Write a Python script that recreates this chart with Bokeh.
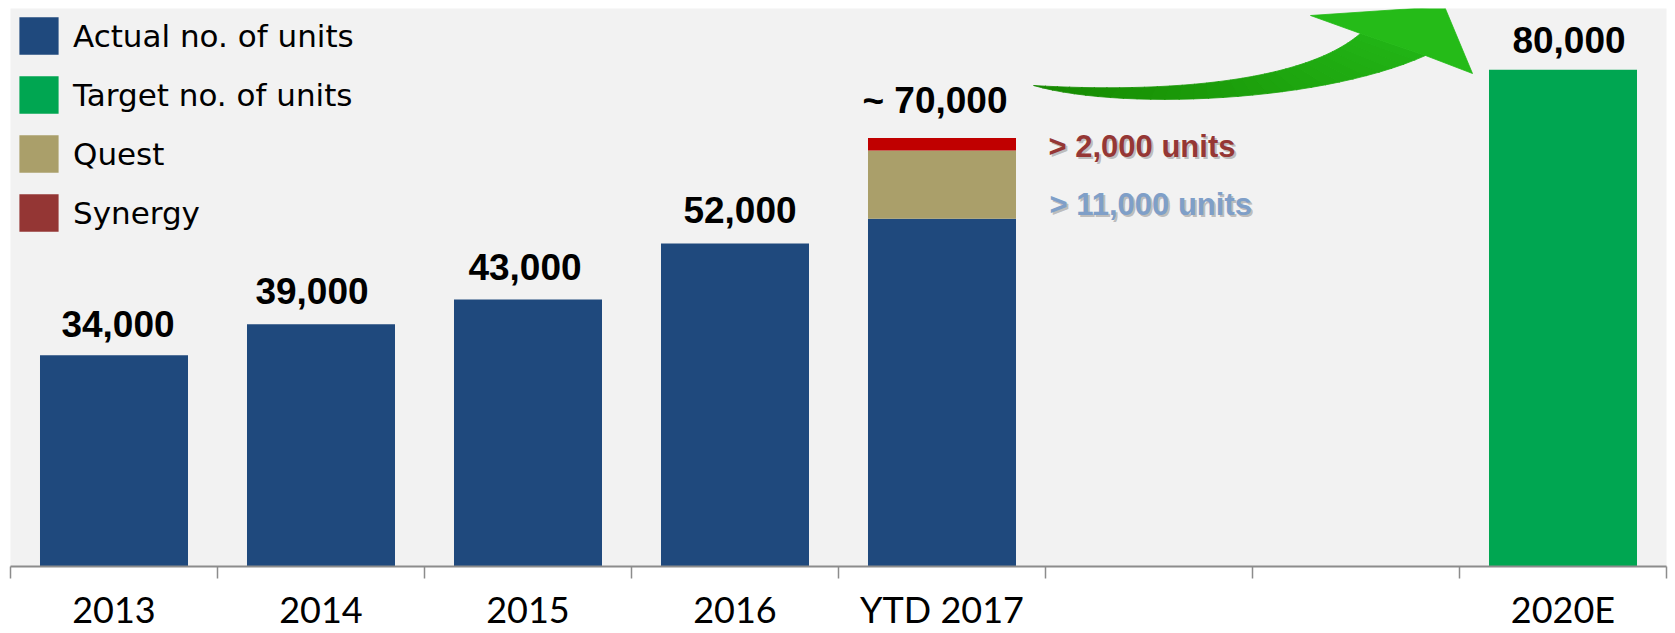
from bokeh.plotting import figure
from bokeh.models import Range1d, FixedTicker, ColumnDataSource, Legend, LegendItem
from bokeh.core.properties import value
from bokeh.embed import file_html
from bokeh.resources import INLINE

# ---------------- data ----------------
categories = ["2013", "2014", "2015", "2016", "YTD 2017", "", "", "2020E"]
actual_units = [34000, 39000, 43000, 52000, 56000, 0, 0, 0]
quest_units = [0, 0, 0, 0, 11000, 0, 0, 0]
synergy_units = [0, 0, 0, 0, 2000, 0, 0, 0]
target_units = [0, 0, 0, 0, 0, 0, 0, 80000]
bar_labels = ["34,000", "39,000", "43,000", "52,000", "~ 70,000", "", "", "80,000"]
note_labels = ["> 2,000 units", "> 11,000 units"]
legend_labels = ["Actual no. of units", "Target no. of units", "Quest", "Synergy"]

# ---------------- styles / layout ----------------
BLUE = "#1f497d"
GREEN = "#00a651"
QUEST = "#aa9f6a"
SYN_BAR = "#c00000"
SYN_LEG = "#943634"
AXIS_GREY = "#8c8c8c"

FIG_W, FIG_H = 1675, 633
FRAME_LEFT, FRAME_TOP, FRAME_W, FRAME_H = 10, 8, 1656, 558
PX_PER_UNIT = 0.00621
Y_MAX = FRAME_H / PX_PER_UNIT
BAR_W = 0.715
label_dy = [-31, -33, -32, -34, -38, 0, 0, -30]
label_dx = [4, -9, -3, 5, -7, 0, 0, 6]

positions = list(range(1, len(categories) + 1))
totals = [a + q + s + t for a, q, s, t in zip(actual_units, quest_units, synergy_units, target_units)]

src = ColumnDataSource(dict(x=positions, actual=actual_units, quest=quest_units,
                            synergy=synergy_units, target=target_units,
                            total=totals, label=bar_labels, dx=label_dx, dy=label_dy))

p = figure(width=FIG_W, height=FIG_H, output_backend="svg", toolbar_location=None,
           x_range=Range1d(0.5, len(categories) + 0.5), y_range=Range1d(0, Y_MAX),
           y_axis_location=None,
           min_border_left=FRAME_LEFT, min_border_right=FIG_W - FRAME_LEFT - FRAME_W,
           min_border_top=FRAME_TOP, min_border_bottom=FIG_H - FRAME_TOP - FRAME_H)
p.background_fill_color = "#f2f2f2"
p.border_fill_color = "white"
p.outline_line_color = None
p.xgrid.visible = False
p.ygrid.visible = False

def px_x(px):
    return 0.5 + (px - FRAME_LEFT) / FRAME_W * len(categories)

def px_y(py):
    return (FRAME_TOP + FRAME_H - py) / FRAME_H * Y_MAX

# ---------------- bars ----------------
rs = p.vbar_stack(["actual", "quest", "synergy", "target"], x="x", width=BAR_W,
                  color=[BLUE, QUEST, SYN_BAR, GREEN], line_color=None, source=src)
# legend swatch for Synergy (zero-height bar, nothing visible on the chart)
r_syn_leg = p.vbar(x=[positions[4]], bottom=[0], top=[0], width=BAR_W,
                   color=SYN_LEG, line_color=None)

p.text(x="x", y="total", text="label", x_offset="dx", y_offset="dy", source=src,
       text_font=value("Liberation Sans"), text_font_style="bold",
       text_font_size="37px", text_color="black", text_align="center",
       text_baseline="alphabetic")

# notes next to the YTD 2017 stack
note_src = ColumnDataSource(dict(x=[px_x(1048), px_x(1049)], y=[px_y(146), px_y(204)],
                                 text=note_labels, color=["#953735", "#7f9fc8"]))
p.text(x="x", y="y", text="text", source=note_src, x_offset=2, y_offset=2,
       text_font=value("Liberation Sans"), text_font_style="bold", text_font_size="31px",
       text_color="#7a7a7a", text_alpha=0.45, text_baseline="middle")
p.text(x="x", y="y", text="text", source=note_src, text_color="color",
       text_font=value("Liberation Sans"), text_font_style="bold", text_font_size="31px",
       text_baseline="middle")

# ---------------- decorative curved arrow ----------------
def cubic(p0, p1, p2, p3, t):
    a = (1 - t) ** 3; b = 3 * (1 - t) ** 2 * t; c = 3 * (1 - t) * t ** 2; d = t ** 3
    return (a * p0[0] + b * p1[0] + c * p2[0] + d * p3[0],
            a * p0[1] + b * p1[1] + c * p2[1] + d * p3[1])

tail = (1033, 85)
up = [tail, (1150, 92), (1300, 85), (1360, 33)]
lo = [tail, (1120, 110), (1320, 102), (1425, 55)]
N = 30
c0 = (22, 136, 0); c1 = (34, 180, 22)
xs, ys, cols = [], [], []
for i in range(N):
    t0 = i / N
    t1 = min(1.0, (i + 1.05) / N)
    u0 = cubic(*up, t0); u1 = cubic(*up, t1); l0 = cubic(*lo, t0); l1 = cubic(*lo, t1)
    xs.append([px_x(v[0]) for v in (u0, u1, l1, l0)])
    ys.append([px_y(v[1]) for v in (u0, u1, l1, l0)])
    f = (i + 0.5) / N
    cols.append("#%02x%02x%02x" % tuple(int(c0[k] + (c1[k] - c0[k]) * f) for k in range(3)))
p.patches(xs, ys, fill_color=cols, line_color=cols, line_width=0.8)
head = [(1360, 33), (1310, 15), (1444, 6), (1472, 73), (1425, 55)]
p.patch([px_x(v[0]) for v in head], [px_y(v[1]) for v in head],
        fill_color="#25bb18", line_color="#25bb18", line_width=0.8)

# ---------------- x axis ----------------
xa = p.xaxis[0]
xa.ticker = FixedTicker(ticks=positions, minor_ticks=[i + 0.5 for i in range(len(categories) + 1)])
xa.major_label_overrides = {pos: cat for pos, cat in zip(positions, categories)}
xa.major_tick_line_color = None
xa.major_tick_out = 0
xa.major_tick_in = 0
xa.minor_tick_out = 12
xa.minor_tick_in = 0
xa.minor_tick_line_color = AXIS_GREY
xa.minor_tick_line_width = 1.5
xa.axis_line_color = AXIS_GREY
xa.axis_line_width = 2
xa.major_label_text_font = "Lato"
xa.major_label_text_font_size = "36px"
xa.major_label_text_color = "black"
xa.major_label_standoff = 8

# ---------------- legend ----------------
legend = Legend(items=[LegendItem(label=legend_labels[0], renderers=[rs[0]]),
                       LegendItem(label=legend_labels[1], renderers=[rs[3]]),
                       LegendItem(label=legend_labels[2], renderers=[rs[1]]),
                       LegendItem(label=legend_labels[3], renderers=[r_syn_leg])],
                location="top_left", glyph_width=49, glyph_height=47, spacing=12,
                label_standoff=10, padding=10, margin=4,
                border_line_color=None, background_fill_alpha=0,
                label_text_font="DejaVu Sans", label_text_font_size="31px",
                label_text_color="black")
p.add_layout(legend)

open("out.html", "w").write(file_html(p, INLINE))
